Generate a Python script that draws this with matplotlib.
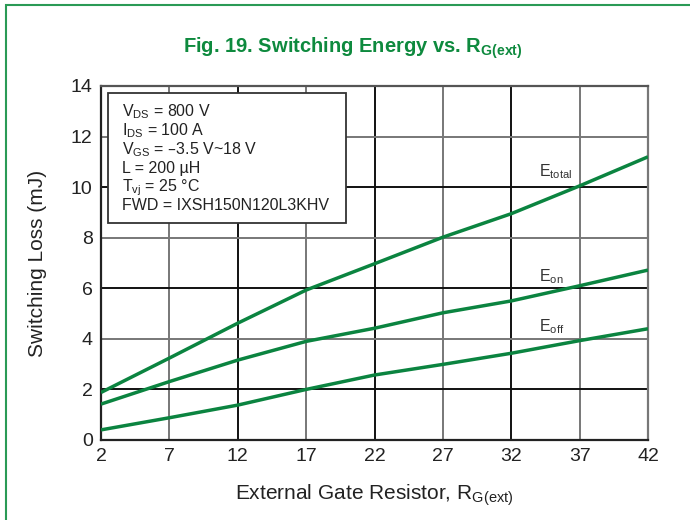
import matplotlib
matplotlib.use("Agg")
import matplotlib.pyplot as plt
from matplotlib.patches import Rectangle
from matplotlib import font_manager

names = {f.name for f in font_manager.fontManager.ttflist}
base = "Liberation Sans Narrow" if "Liberation Sans Narrow" in names else "Liberation Sans"
plt.rcParams["font.family"] = [base, "DejaVu Sans"]
plt.rcParams["mathtext.default"] = "regular"

# Data
rg = [2, 7, 12, 17, 22, 27, 32, 37, 42]
e_total = [1.88, 3.24, 4.62, 5.93, 6.97, 8.02, 8.95, 10.05, 11.2]
e_on = [1.42, 2.31, 3.16, 3.90, 4.42, 5.03, 5.50, 6.10, 6.72]
e_off = [0.40, 0.88, 1.38, 2.00, 2.57, 2.99, 3.43, 3.93, 4.40]
x_ticks = [2, 7, 12, 17, 22, 27, 32, 37, 42]
y_ticks = [0, 2, 4, 6, 8, 10, 12, 14]
conditions = [
    "V$_{DS}$ = 800 V",
    "I$_{DS}$ = 100 A",
    "V$_{GS}$ = \u20133.5 V~18 V",
    "L = 200 \u00b5H",
    "T$_{vj}$ = 25 \u00b0C",
    "FWD = IXSH150N120L3KHV",
]

GREEN = "#0b8440"
TXT = "#222222"

fig = plt.figure(figsize=(6.9, 5.2), dpi=100)
W, H = 690, 520
ax = fig.add_axes([101 / W, 1 - 440 / H, (648 - 101) / W, (440 - 86) / H])

# page frame
fig.patches.append(Rectangle((6 / W, -0.1), 1.2, (1 - 5 / H) + 0.1, transform=fig.transFigure,
                             fill=False, edgecolor="#2a9a55", linewidth=1.5, clip_on=False))

ax.set_xlim(2, 42)
ax.set_ylim(0, 14)
ax.set_xticks(x_ticks)
ax.set_yticks(y_ticks)
ax.tick_params(length=0, labelsize=14, labelcolor=TXT, pad=6)

for i, x in enumerate(x_ticks[1:-1]):
    ax.axvline(x, color="#777777" if i % 2 == 0 else "#111111", lw=1.4, zorder=1)
for i, y in enumerate(y_ticks[1:-1]):
    ax.axhline(y, color="#111111" if i % 2 == 0 else "#777777", lw=1.4, zorder=1)
for s in ax.spines.values():
    s.set_color("#222222")
    s.set_linewidth(1.6)
ax.spines["right"].set_color("#777777")
ax.spines["top"].set_color("#555555")

for data in (e_total, e_on, e_off):
    ax.plot(rg, data, color=GREEN, lw=2.5, zorder=3, solid_capstyle="butt")

ax.text(34.0, 10.6, "E$_{total}$", fontsize=11.5, color="#333333", va="center", ha="left")
ax.text(34.0, 6.45, "E$_{on}$", fontsize=11.5, color="#333333", va="center", ha="left")
ax.text(34.0, 4.5, "E$_{off}$", fontsize=11.5, color="#333333", va="center", ha="left")

# conditions box
box = Rectangle((108 / W, 1 - 223 / H), (346 - 108) / W, (223 - 93) / H, transform=fig.transFigure,
                facecolor="white", edgecolor="#333333", linewidth=1.3, zorder=4)
fig.patches.append(box)
for k, line in enumerate(conditions):
    fig.text(122 / W, 1 - (112 + k * 18.8) / H, line, fontsize=11.5, color=TXT,
             va="center", ha="left", zorder=5)

fig.text(353 / W, 1 - 48 / H, "Fig. 19. Switching Energy vs. R$_{G(ext)}$", fontsize=14.5,
         fontweight="bold", color="#0e8a3e", ha="center", va="center")
ax.set_xlabel("External Gate Resistor, R$_{G(ext)}$", fontsize=15, color=TXT, labelpad=12)
ax.set_ylabel("Switching Loss (mJ)", fontsize=15, color=TXT, labelpad=17)

fig.savefig("out.png", dpi=100)
